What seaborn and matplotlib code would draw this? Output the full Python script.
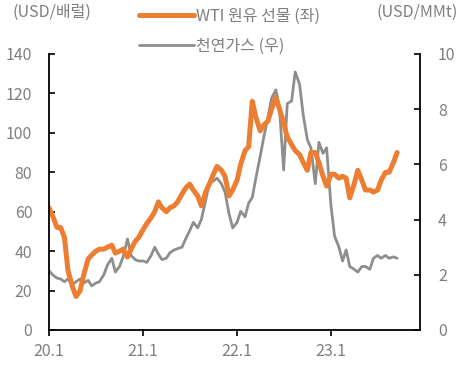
import matplotlib
matplotlib.use("Agg")
import matplotlib.pyplot as plt
import seaborn as sns
import pandas as pd

# ---- data (semi-monthly) ----
dates = pd.date_range("2020-01-01", periods=90, freq="SMS")

wti = [62, 58, 52, 52, 47, 30, 22, 17, 20, 28,
       36, 38, 40, 41, 41, 42, 43, 39, 40, 41,
       37, 41, 45, 47, 51, 54, 57, 60, 65, 62,
       60, 62, 63, 65, 69, 72, 74, 71, 68, 63,
       70, 74, 79, 83, 81, 78, 68, 71, 76, 84,
       91, 93, 116, 108, 101, 104, 106, 112, 118, 112,
       105, 98, 94, 91, 89, 85, 81, 90, 90, 85,
       78, 73, 79, 79, 77, 78, 77, 67, 74, 81,
       76, 71, 71, 70, 71, 76, 80, 80, 85, 90]

gas = [2.15, 2.0, 1.88, 1.85, 1.75, 1.85, 1.65, 1.75, 1.85, 1.7,
       1.8, 1.6, 1.7, 1.75, 2.0, 2.35, 2.6, 2.1, 2.3, 2.65,
       3.3, 2.7, 2.55, 2.5, 2.5, 2.45, 2.7, 3.0, 2.75, 2.55,
       2.6, 2.8, 2.9, 2.95, 3.0, 3.3, 3.6, 3.9, 3.7, 4.0,
       4.7, 5.3, 5.4, 5.5, 5.3, 5.0, 4.2, 3.7, 3.9, 4.3,
       4.1, 4.6, 4.8, 5.5, 6.3, 7.0, 7.7, 8.4, 8.7, 8.0,
       5.8, 8.2, 8.3, 9.35, 8.9, 7.8, 6.9, 6.6, 5.3, 6.8,
       6.4, 6.6, 4.5, 3.4, 3.0, 2.5, 2.9, 2.3, 2.2, 2.1,
       2.3, 2.3, 2.2, 2.6, 2.7, 2.6, 2.7, 2.6, 2.65, 2.6]

tick_dates = pd.to_datetime(["2020-01-01", "2021-01-01", "2022-01-01", "2023-01-01"])
tick_labels = ["20.1", "21.1", "22.1", "23.1"]
left_ticks = [0, 20, 40, 60, 80, 100, 120, 140]
right_ticks = [0, 2, 4, 6, 8, 10]

wti_label = "WTI 원유 선물 (좌)"
gas_label = "천연가스 (우)"

df = pd.DataFrame({"date": dates, "wti": wti, "gas": gas})

# ---- style ----
sns.set_style("white")
plt.rcParams["font.family"] = ["Noto Sans CJK KR", "DejaVu Sans"]

ORANGE = "#ED7D31"
GRAY = "#8E8E8E"
TXT = "#7F7F7F"
FS = 11.5

fig = plt.figure(figsize=(4.61, 3.72), dpi=100)
ax = fig.add_axes([49/461, 1-330/372, (420-49)/461, (330-54)/372])
ax2 = ax.twinx()

sns.lineplot(data=df, x="date", y="gas", ax=ax2, color=GRAY, linewidth=2.0, legend=False)
sns.lineplot(data=df, x="date", y="wti", ax=ax, color=ORANGE, linewidth=3.6, legend=False)

# orange on top of gray
ax.set_zorder(ax2.get_zorder() + 1)
ax.patch.set_visible(False)

ax.set_ylim(0, 140)
ax2.set_ylim(0, 10)
ax.set_xlim(pd.Timestamp("2020-01-01"), pd.Timestamp("2023-12-13"))

ax.set_yticks(left_ticks)
ax2.set_yticks(right_ticks)
ax.set_xticks(tick_dates)
ax.set_xticklabels(tick_labels)

ax.set_xlabel("")
ax.set_ylabel("")
ax2.set_ylabel("")

for a in (ax, ax2):
    a.spines["top"].set_visible(False)
    for s in ("left", "right", "bottom"):
        a.spines[s].set_color("black")
        a.spines[s].set_linewidth(1.3)

ax.spines["right"].set_visible(False)
ax2.spines["left"].set_visible(False)
ax2.spines["bottom"].set_visible(False)

ax.tick_params(axis="y", direction="in", length=4, width=1.2, color="black",
               labelsize=FS, labelcolor=TXT, pad=12)
ax.tick_params(axis="x", direction="out", length=4, width=1.2, color="black",
               labelsize=FS, labelcolor=TXT, pad=5, bottom=True)
ax2.tick_params(axis="y", direction="in", length=4, width=1.2, color="black",
                labelsize=FS, labelcolor=TXT, pad=13, right=True)

fig.text(12/461, 1-12/372, "(USD/배럴)", fontsize=FS, color=TXT, ha="left", va="center")
fig.text(458/461, 1-12/372, "(USD/MMt)", fontsize=FS, color=TXT, ha="right", va="center")

handles = [ax.lines[0], ax2.lines[0]]
leg = fig.legend(handles, [wti_label, gas_label], loc="upper left",
                 bbox_to_anchor=(133/461, 1 - 1/372), frameon=False,
                 fontsize=FS, handlelength=3.4, handletextpad=0.15,
                 labelspacing=0.85, borderaxespad=0)
for t in leg.get_texts():
    t.set_color(TXT)

fig.savefig("out.png", dpi=100)
